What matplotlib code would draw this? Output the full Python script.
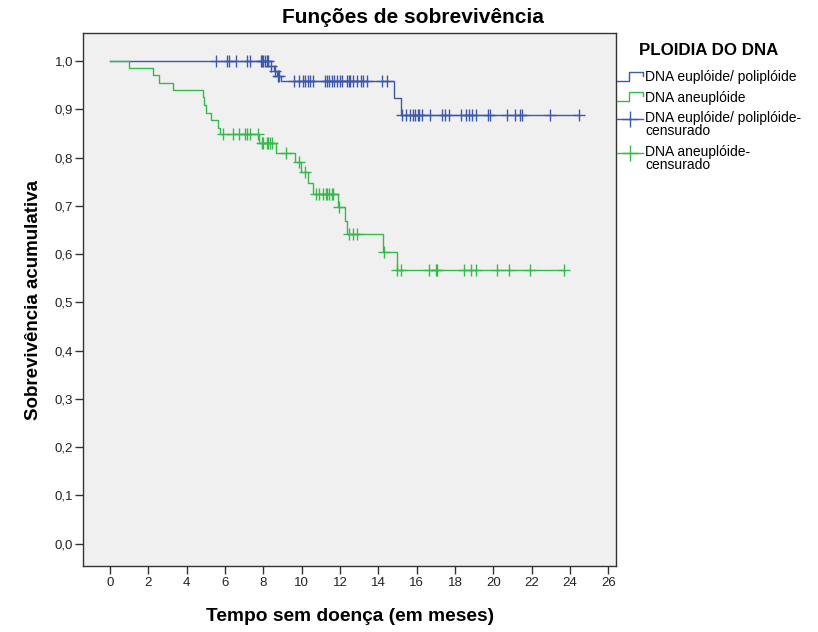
import numpy as np
import matplotlib
matplotlib.use('Agg')
import matplotlib.pyplot as plt
from matplotlib.lines import Line2D
from matplotlib.legend_handler import HandlerBase

plt.rcParams['font.family'] = ['Liberation Sans', 'DejaVu Sans']

# euploide / poliploide group
blue_event_t = [8.27, 8.55, 8.70, 8.95, 14.83, 15.17]
blue_event_s = [0.989, 0.980, 0.969, 0.958, 0.924, 0.889]
blue_cens_t = [5.54, 6.09, 6.23, 6.58, 7.17, 7.31, 7.87, 7.94, 8.01, 8.09, 8.18, 8.23,
               8.40, 8.63, 8.76, 8.82, 9.62, 9.89, 10.10, 10.18, 10.36, 10.44, 10.58,
               11.23, 11.35, 11.45, 11.58, 11.70, 11.84, 12.01, 12.10, 12.36, 12.45,
               12.53, 12.70, 12.91, 13.09, 13.19, 13.40, 14.19, 14.45, 15.23, 15.46,
               15.63, 15.81, 15.93, 16.05, 16.15, 16.28, 16.71, 17.32, 17.49, 17.67,
               18.31, 18.59, 18.71, 18.89, 19.11, 19.70, 19.81, 20.71, 21.15, 21.41,
               21.50, 22.98, 24.45]

# aneuploide group
green_event_t = [1.01, 2.23, 2.57, 3.27, 4.84, 4.93, 5.01, 5.26, 5.66, 5.76, 7.80, 8.67,
                 9.66, 9.96, 10.36, 10.62, 11.92, 12.27, 12.36, 14.27, 14.97]
green_event_s = [0.985, 0.971, 0.955, 0.940, 0.925, 0.908, 0.892, 0.877, 0.862, 0.848,
                 0.831, 0.810, 0.791, 0.770, 0.747, 0.725, 0.698, 0.669, 0.641, 0.605,
                 0.568]
green_cens_t = [5.88, 6.41, 6.75, 7.05, 7.17, 7.31, 7.74, 7.92, 8.00, 8.18, 8.27, 8.36,
                8.44, 9.18, 9.89, 10.18, 10.76, 10.93, 11.14, 11.28, 11.35, 11.45, 11.58,
                11.66, 11.97, 12.45, 12.67, 12.88, 14.30, 15.00, 15.18, 16.67, 17.02,
                17.09, 18.45, 18.84, 19.11, 20.19, 20.80, 21.90, 23.67]

labels = ['DNA euplóide/ poliplóide', 'DNA aneuplóide',
          'DNA euplóide/ poliplóide-\ncensurado', 'DNA aneuplóide-\ncensurado']
xticks = np.arange(0, 27, 2)
yticks = np.arange(0, 1.01, 0.1)

BLUE = '#3E58AC'
GREEN = '#35BA4C'


class StepHandler(HandlerBase):
    def create_artists(self, legend, orig_handle, xdescent, ydescent, width, height,
                       fontsize, trans):
        x0 = -xdescent
        x1 = x0 + width
        xm = x0 + 0.45 * width
        ylo = -ydescent + 0.05 * height
        yhi = -ydescent + 0.95 * height
        ln = Line2D([x0, xm, xm, x1, x1], [ylo, ylo, yhi, yhi, yhi - 0.35 * height],
                    color=orig_handle.get_color(), lw=orig_handle.get_linewidth())
        ln.set_transform(trans)
        return [ln]


class CensHandler(HandlerBase):
    # line with a cross, lifted to sit next to the first text line
    def create_artists(self, legend, orig_handle, xdescent, ydescent, width, height,
                       fontsize, trans):
        x0 = -xdescent
        x1 = x0 + width
        y = -ydescent + 0.5 * height + 0.45 * fontsize
        ln = Line2D([x0, x1], [y, y], color=orig_handle.get_color(), lw=1.0)
        mk = Line2D([x0 + 0.5 * width], [y], ls='none', marker='+', ms=11, mew=1.0,
                    color=orig_handle.get_color())
        ln.set_transform(trans)
        mk.set_transform(trans)
        return [ln, mk]


def km_curve(ax, ev_t, ev_s, cens_t, color):
    ev_t = np.asarray(ev_t)
    ev_s = np.asarray(ev_s)
    cens_t = np.asarray(cens_t)
    t_end = max(ev_t.max(), cens_t.max())
    t = np.r_[0, ev_t, t_end]
    s = np.r_[1.0, ev_s, ev_s[-1]]
    line, = ax.step(t, s, where='post', color=color, lw=1.0)
    levels = np.r_[1.0, ev_s]
    cens_s = levels[np.searchsorted(ev_t, cens_t, side='right')]
    ax.plot(cens_t, cens_s, ls='none', marker='+', ms=8, mew=1.0, color=color)
    return line


fig = plt.figure(figsize=(8.18, 6.32), dpi=100)
ax = fig.add_axes([0.102, 0.105, 0.651, 0.842])
ax.set_facecolor('#F0F0F0')

l1 = km_curve(ax, blue_event_t, blue_event_s, blue_cens_t, BLUE)
l2 = km_curve(ax, green_event_t, green_event_s, green_cens_t, GREEN)

ax.set_xlim(-1.38, 26.4)
ax.set_ylim(-0.0455, 1.057)
ax.set_xticks(xticks)
ax.set_xticklabels([str(v) for v in xticks])
ax.set_yticks(yticks)
ax.set_yticklabels([f'{v:.1f}'.replace('.', ',') for v in yticks])
ax.tick_params(axis='both', direction='out', length=6, width=1.0, labelsize=9.5,
               colors='#333333', labelcolor='#222222')
ax.tick_params(axis='x', pad=2)
ax.tick_params(axis='y', pad=1.5)
for sp in ax.spines.values():
    sp.set_color('#333333')
    sp.set_linewidth(1.0)

ax.set_xlabel('Tempo sem doença (em meses)', fontsize=13.8, fontweight='bold', labelpad=14)
ax.set_ylabel('Sobrevivência acumulativa', fontsize=13.5, fontweight='bold', labelpad=9)
fig.text(0.505, 0.972, 'Funções de sobrevivência', ha='center', va='center',
         fontsize=15, fontweight='bold')

h3 = Line2D([], [], color=BLUE, lw=1.0)
h4 = Line2D([], [], color=GREEN, lw=1.0)
leg = fig.legend([l1, l2, h3, h4], labels, loc='upper left',
                 bbox_to_anchor=(0.754, 0.932), frameon=False, fontsize=10,
                 handlelength=1.9, handletextpad=0.15, labelspacing=0.45,
                 borderaxespad=0, borderpad=0, title='PLOIDIA DO DNA',
                 title_fontproperties={'weight': 'bold', 'size': 12.2},
                 handler_map={l1: StepHandler(), l2: StepHandler(),
                              h3: CensHandler(), h4: CensHandler()})
leg._legend_box.sep = 9
for t in leg.get_texts():
    t.set_linespacing(0.95)

fig.savefig('out.png', dpi=100, facecolor='white')
